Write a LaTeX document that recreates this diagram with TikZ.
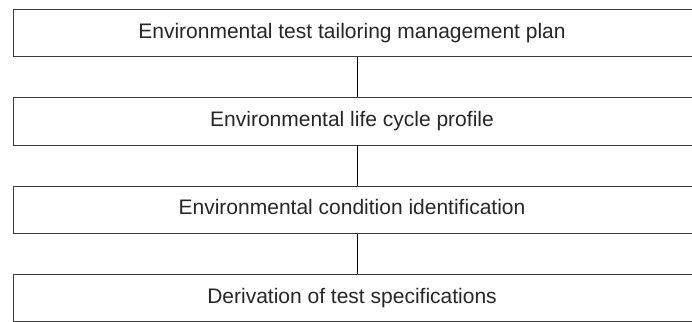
\documentclass[tikz,border=0pt]{standalone}
\usepackage{fontspec}
\setmainfont{Liberation Sans}
\definecolor{boxgray}{RGB}{60,60,60}
\tikzstyle{stage}=[rectangle, draw=boxgray, line width=0.9pt, minimum width=687pt, minimum height=47.3pt, inner sep=0pt]
\tikzstyle{caption}=[font=\fontsize{21}{24}\selectfont, text=black!85, inner sep=0pt, anchor=base]

\begin{document}
\begin{tikzpicture}[x=1pt, y=-1pt, line width=0.9pt]
        \useasboundingbox (0,0) rectangle (692,321);
        % the four stages, one under the other
        \node[stage] (plan) at (357,33) {};
        \node[stage] (life) at (357,121.3) {};
        \node[stage] (cond) at (357,209.6) {};
        \node[stage] (spec) at (357,297.9) {};
        \node[caption] (plantext) at (352,38.3) {Environmental test tailoring management plan};
        \node[caption] (lifetext) at (352,126.6) {Environmental life cycle profile};
        \node[caption] (condtext) at (352,214.9) {Environmental condition identification};
        \node[caption] (spectext) at (352,303.2) {Derivation of test specifications};
        \draw (plan.south) -- (life.north);
        \draw (life.south) -- (cond.north);
        \draw (cond.south) -- (spec.north);
    \end{tikzpicture}
\end{document}
